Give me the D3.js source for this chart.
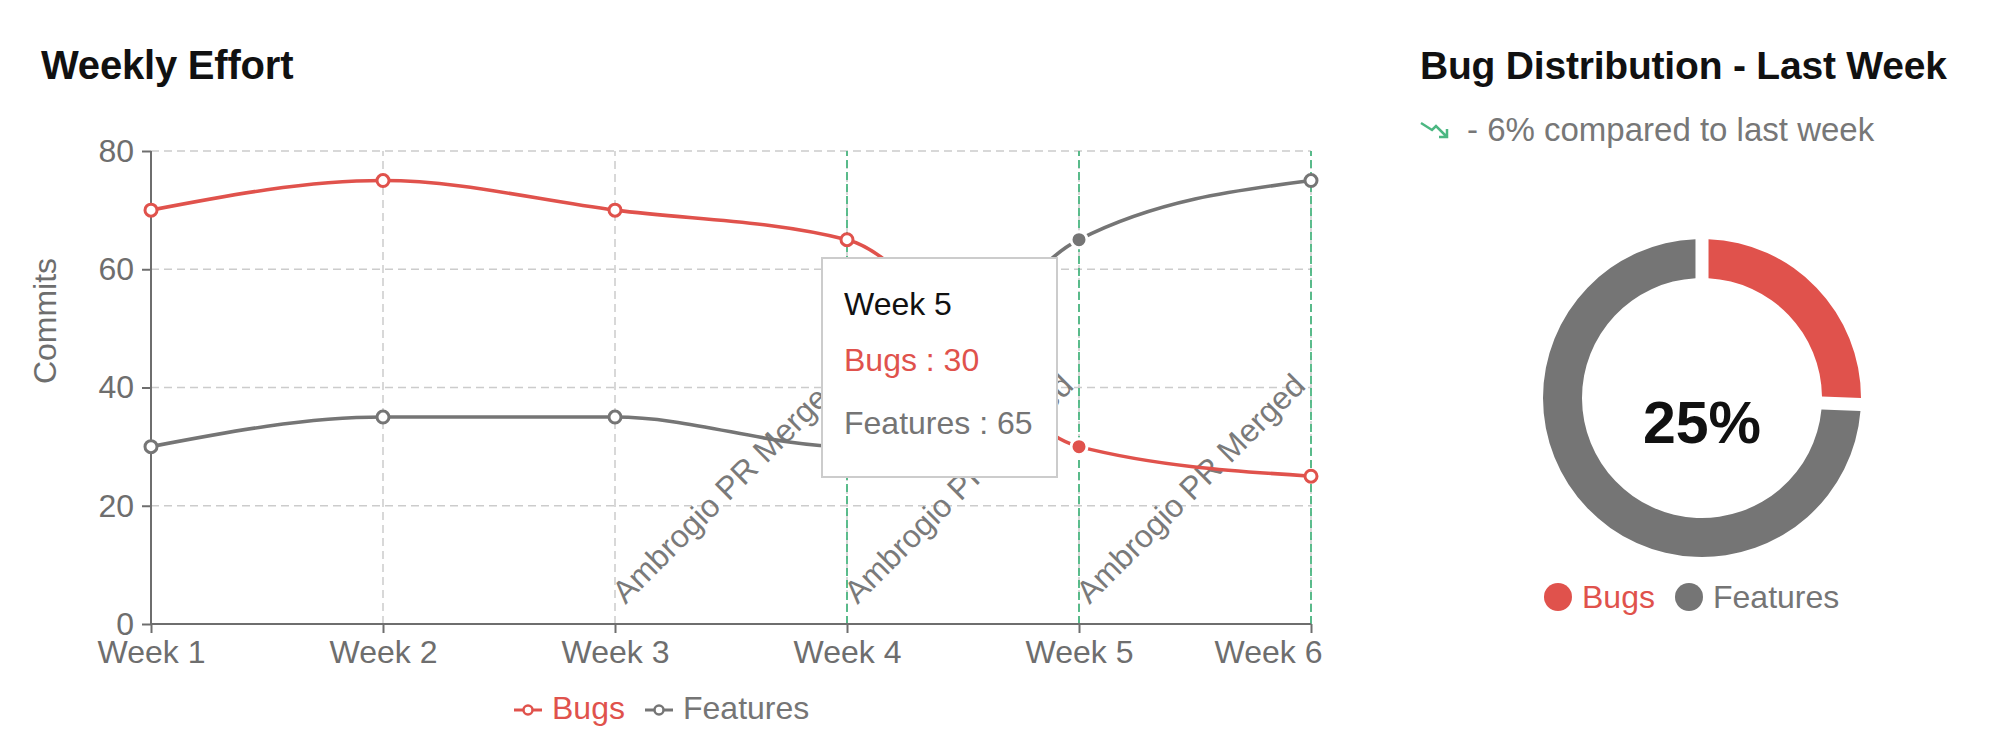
<!DOCTYPE html>
<html>
<head>
<meta charset="utf-8">
<script src="https://cdn.jsdelivr.net/npm/d3@7"></script>
<style>
  body { margin: 0; background: #fff; }
  svg { display: block; font-family: "Liberation Sans", Arial, sans-serif; }
</style>
</head>
<body>
<svg id="chart" width="2012" height="756"></svg>
<script>
// data
const weeks = ["Week 1", "Week 2", "Week 3", "Week 4", "Week 5", "Week 6"];
const bugs = [70, 75, 70, 65, 30, 25];
const features = [30, 35, 35, 30, 65, 75];
const yTicks = [0, 20, 40, 60, 80];
const mergeWeeks = ["Week 4", "Week 5", "Week 6"];
const mergeLabel = "Ambrogio PR Merged";
const hoverWeek = "Week 5";
const seriesNames = ["Bugs", "Features"];
const pieValues = [25, 75];
const centerText = "25%";
const changeText = "- 6% compared to last week";

const red = "#e0524c";
const grey = "#757575";
const green = "#4cb782";
const axisGrey = "#6e6e6e";

const svg = d3.select("#chart");

// ---------- left: line chart ----------
const x = d3.scalePoint().domain(weeks).range([151, 1311]);
const y = d3.scaleLinear().domain([0, 80]).range([624, 151]);

svg.append("text")
   .attr("x", 41).attr("y", 79)
   .attr("font-size", 40).attr("font-weight", "bold").attr("fill", "#111")
   .attr("letter-spacing", -0.2)
   .text("Weekly Effort");

const g = svg.append("g");

// horizontal grid
g.selectAll(".hgrid")
 .data(yTicks.filter(d => d > 0))
 .enter().append("line")
 .attr("x1", x.range()[0]).attr("x2", x.range()[1])
 .attr("y1", d => y(d)).attr("y2", d => y(d))
 .attr("stroke", "#cccccc").attr("stroke-width", 1.5)
 .attr("stroke-dasharray", "8 5");

// vertical grid
g.selectAll(".vgrid")
 .data(weeks.slice(1))
 .enter().append("line")
 .attr("x1", d => x(d)).attr("x2", d => x(d))
 .attr("y1", y(0)).attr("y2", y(80))
 .attr("stroke", "#cccccc").attr("stroke-width", 1.5)
 .attr("stroke-dasharray", "8 5");

// merge markers
g.selectAll(".mark")
 .data(mergeWeeks)
 .enter().append("line")
 .attr("x1", d => x(d)).attr("x2", d => x(d))
 .attr("y1", y(0)).attr("y2", y(80))
 .attr("stroke", green).attr("stroke-width", 1.8)
 .attr("stroke-dasharray", "8 4");

const midY = (y(0) + y(80)) / 2;
g.selectAll(".markLabel")
 .data(mergeWeeks)
 .enter().append("text")
 .attr("transform", d => `translate(${x(d) - 4}, ${midY}) rotate(-45)`)
 .attr("text-anchor", "end")
 .attr("font-size", 32).attr("fill", "#7a7a7a")
 .text(mergeLabel);

// axes
const yAxis = g.append("g")
  .attr("transform", `translate(${x.range()[0]},0)`)
  .call(d3.axisLeft(y).tickValues(yTicks).tickSize(9).tickPadding(8));
const xAxis = g.append("g")
  .attr("transform", `translate(0,${y(0)})`)
  .call(d3.axisBottom(x).tickSize(9).tickPadding(7));

[yAxis, xAxis].forEach(a => {
  a.select(".domain").attr("stroke", axisGrey).attr("stroke-width", 2);
  a.selectAll(".tick line").attr("stroke", axisGrey).attr("stroke-width", 2);
  a.selectAll("text").attr("font-size", 32).attr("fill", axisGrey)
   .attr("font-family", "Liberation Sans, Arial, sans-serif");
});
yAxis.select(".domain").attr("d", `M0,${y(0)}V${y(80)}`);
xAxis.select(".domain").attr("d", `M${x.range()[0]},0H${x.range()[1]}`);
xAxis.selectAll(".tick text")
     .filter(d => d === weeks[weeks.length - 1])
     .attr("text-anchor", "end").attr("dx", 11);

svg.append("text")
   .attr("transform", "translate(56, 321) rotate(-90)")
   .attr("text-anchor", "middle")
   .attr("font-size", 32).attr("fill", axisGrey)
   .text("Commits");

// series
const series = [
  { name: seriesNames[0], values: bugs, color: red },
  { name: seriesNames[1], values: features, color: grey }
];

const line = d3.line()
  .x((d, i) => x(weeks[i]))
  .y(d => y(d))
  .curve(d3.curveMonotoneX);

series.forEach(s => {
  g.append("path")
   .attr("d", line(s.values))
   .attr("fill", "none")
   .attr("stroke", s.color)
   .attr("stroke-width", 3.6);

  g.selectAll(null)
   .data(s.values)
   .enter().append("circle")
   .attr("cx", (d, i) => x(weeks[i]))
   .attr("cy", d => y(d))
   .attr("r", (d, i) => weeks[i] === hoverWeek ? 8 : 6)
   .attr("fill", (d, i) => weeks[i] === hoverWeek ? s.color : "#fff")
   .attr("stroke", (d, i) => weeks[i] === hoverWeek ? "#fff" : s.color)
   .attr("stroke-width", 3);
});

// legend under the chart
const legendItems = [
  { name: seriesNames[0], color: red, icon: 528, text: 552 },
  { name: seriesNames[1], color: grey, icon: 659, text: 683 }
];
const lg = svg.append("g");
legendItems.forEach(it => {
  lg.append("line")
    .attr("x1", it.icon - 14).attr("x2", it.icon + 14)
    .attr("y1", 710).attr("y2", 710)
    .attr("stroke", it.color).attr("stroke-width", 3);
  lg.append("circle")
    .attr("cx", it.icon).attr("cy", 710).attr("r", 4.5)
    .attr("fill", "#fff").attr("stroke", it.color).attr("stroke-width", 2.5);
  lg.append("text")
    .attr("x", it.text).attr("y", 719)
    .attr("font-size", 32).attr("fill", it.color)
    .text(it.name);
});

// tooltip for the hovered week
const hi = weeks.indexOf(hoverWeek);
const tip = svg.append("g").attr("transform", "translate(822, 258)");
tip.append("rect")
   .attr("width", 235).attr("height", 219)
   .attr("fill", "#fff").attr("stroke", "#cccccc").attr("stroke-width", 2);
tip.append("text").attr("x", 22).attr("y", 57)
   .attr("font-size", 32).attr("fill", "#111").text(hoverWeek);
tip.append("text").attr("x", 22).attr("y", 113)
   .attr("font-size", 32).attr("fill", red).text(`${seriesNames[0]} : ${bugs[hi]}`);
tip.append("text").attr("x", 22).attr("y", 176)
   .attr("font-size", 32).attr("fill", grey).text(`${seriesNames[1]} : ${features[hi]}`);

// ---------- right: donut ----------
svg.append("text")
   .attr("x", 1420).attr("y", 79)
   .attr("font-size", 39).attr("font-weight", "bold").attr("fill", "#111")
   .attr("letter-spacing", -0.2)
   .text("Bug Distribution - Last Week");

// trending-down icon
svg.append("path")
   .attr("d", "M1421,123 L1432,130 L1436,126 L1447,137 M1447,129 V137 H1439")
   .attr("fill", "none").attr("stroke", green).attr("stroke-width", 2.5);

svg.append("text")
   .attr("x", 1467).attr("y", 141)
   .attr("font-size", 33).attr("fill", "#777")
   .text(changeText);

const pie = d3.pie().sort(null).value(d => d).padAngle(0.082);
const arc = d3.arc().innerRadius(120).outerRadius(159).padRadius(159);
const pieColors = d3.scaleOrdinal().domain(seriesNames).range([red, grey]);

const pg = svg.append("g").attr("transform", "translate(1702, 398)");
pg.selectAll("path")
  .data(pie(pieValues))
  .enter().append("path")
  .attr("d", arc)
  .attr("fill", (d, i) => pieColors(seriesNames[i]));

pg.append("text")
  .attr("y", 45)
  .attr("text-anchor", "middle")
  .attr("font-size", 59).attr("font-weight", "bold").attr("fill", "#111")
  .text(centerText);

const pieLegend = [
  { name: seriesNames[0], cx: 1558, tx: 1582 },
  { name: seriesNames[1], cx: 1689, tx: 1713 }
];
pieLegend.forEach(it => {
  svg.append("circle")
     .attr("cx", it.cx).attr("cy", 597).attr("r", 14)
     .attr("fill", pieColors(it.name));
  svg.append("text")
     .attr("x", it.tx).attr("y", 608)
     .attr("font-size", 32).attr("fill", pieColors(it.name))
     .text(it.name);
});
</script>
</body>
</html>
